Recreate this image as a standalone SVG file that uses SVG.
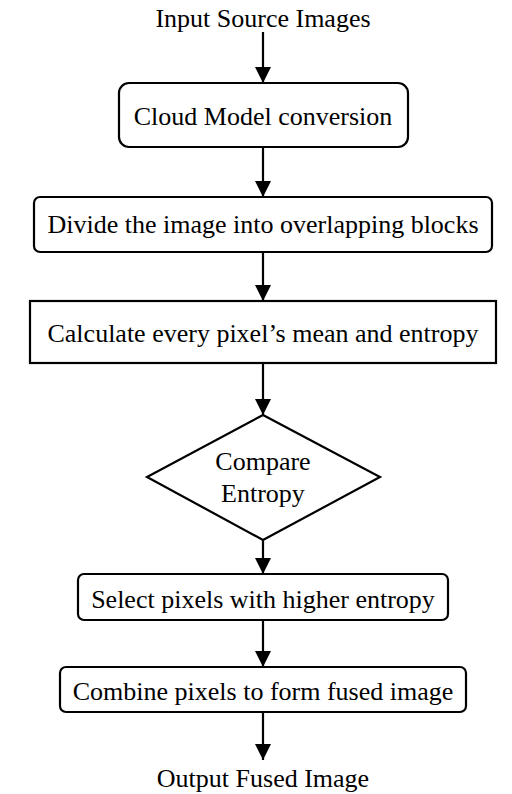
<svg xmlns="http://www.w3.org/2000/svg" width="512" height="794" viewBox="0 0 512 794">
<style>
.t{font-family:"Liberation Serif","Times New Roman",serif;font-size:26px;fill:#000;text-anchor:middle}
.b{fill:#fff;stroke:#000;stroke-width:2.2}
.c{stroke:#000;stroke-width:2.2;fill:none}
</style>
<defs>
<marker id="ah" viewBox="0 0 16 16" refX="16" refY="8" markerWidth="16" markerHeight="16" markerUnits="userSpaceOnUse" orient="auto">
<path d="M0,0 L16,8 L0,16 Z" fill="#000"/>
</marker>
</defs>
<rect width="512" height="794" fill="#fff"/>
<g id="connectors">
<line class="c" x1="263" y1="32" x2="263" y2="83" marker-end="url(#ah)"/>
<line class="c" x1="263" y1="147" x2="263" y2="197" marker-end="url(#ah)"/>
<line class="c" x1="263" y1="252" x2="263" y2="301" marker-end="url(#ah)"/>
<line class="c" x1="263" y1="363" x2="263" y2="415" marker-end="url(#ah)"/>
<line class="c" x1="263" y1="540" x2="263" y2="574" marker-end="url(#ah)"/>
<line class="c" x1="263" y1="620" x2="263" y2="667" marker-end="url(#ah)"/>
<line class="c" x1="263" y1="712" x2="263" y2="760" marker-end="url(#ah)"/>
</g>
<g id="input"><text class="t" x="263" y="27">Input Source Images</text></g>
<g id="cloud">
<rect class="b" x="119" y="83" width="289" height="64" rx="10"/>
<text class="t" x="263" y="125">Cloud Model conversion</text>
</g>
<g id="divide">
<rect class="b" x="34" y="197" width="458" height="55" rx="6"/>
<text class="t" x="263" y="233">Divide the image into overlapping blocks</text>
</g>
<g id="calculate">
<rect class="b" x="30" y="301" width="466" height="62"/>
<text class="t" x="263" y="342">Calculate every pixel’s mean and entropy</text>
</g>
<g id="compare">
<polygon class="b" points="263,415 380,477 263,540 147,477"/>
<text class="t" x="263" y="470">Compare</text>
<text class="t" x="263" y="502">Entropy</text>
</g>
<g id="select">
<rect class="b" x="78" y="574" width="370" height="46" rx="6"/>
<text class="t" x="263" y="608">Select pixels with higher entropy</text>
</g>
<g id="combine">
<rect class="b" x="60" y="667" width="406" height="45" rx="6"/>
<text class="t" x="263" y="700">Combine pixels to form fused image</text>
</g>
<g id="output"><text class="t" x="263" y="787">Output Fused Image</text></g>
</svg>
